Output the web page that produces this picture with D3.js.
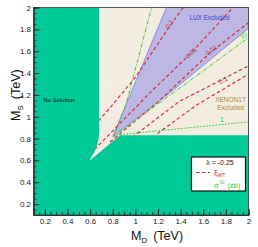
<!DOCTYPE html>
<html><head><meta charset="utf-8">
<script src="https://cdn.jsdelivr.net/npm/d3@7"></script>
<style>body{margin:0;background:#fff;} svg{display:block;font-family:"Liberation Sans",Arial,sans-serif;}</style>
</head><body><svg id="c" width="258" height="247"></svg>
<script>
// ---- data (M_D, M_S in TeV) ----
const xTicks = [0.2,0.4,0.6,0.8,1,1.2,1.4,1.6,1.8,2];
const xTickLabels = ["0.2","0.4","0.6","0.8","1","1.2","1.4","1.6","1.8","2"];
const yTicks = [0.2,0.4,0.6,0.8,1,1.2,1.4,1.6,1.8,2];
const yTickLabels = ["0.2","0.4","0.6","0.8","1","1.2","1.4","1.6","1.8","2"];
// boundary of the allowed (non "No Solution") region
const allowedRegion = [[0.68,2.0],[0.68,0.86],[0.676,0.80],[0.662,0.74],[0.636,0.675],[0.593,0.595],[0.864,0.83],[2.0,0.83],[2.0,2.0]];
// LUX excluded wedge
const luxExcluded = [[0.80,0.818],[1.275,2.0],[2.0,2.0],[2.0,1.81],[1.30,1.215]];
// xi_WT contours
const xi_0p1_upper  = [[0.64,0.92],[0.80,1.11],[1.0,1.36],[1.306,1.831],[1.439,2.023]];
const xi_0p01_left  = [[0.64,0.70],[0.80,0.87],[1.13,1.22],[1.49,1.58],[1.88,2.02]];
const xi_0p01_right = [[0.776,0.768],[1.191,1.126],[1.669,1.593],[2.031,1.886]];
const xi_0p1_lower  = [[0.847,0.713],[1.395,1.144],[1.775,1.345],[2.031,1.483]];
const xi_1          = [[1.041,0.695],[1.218,0.863],[1.542,1.107],[2.031,1.409]];
// sigma^SI contours (zb)
const sigma_10 = [[1.150,2.023],[0.916,1.107],[0.81,0.82],[2.031,1.748]];
const sigma_1  = [[0.835,0.833],[2.031,0.956]];
const lambdaText = "λ = -0.25";

// ---- layout ----
const W=258,H=247, L=33.5, R=248.5, T=7.5, B=215;
const svg=d3.select("#c");
const x=d3.scaleLinear().domain([0.1,2]).range([L,R]);
const y=d3.scaleLinear().domain([0.1,2]).range([B,T]);
const line=d3.line().x(d=>x(d[0])).y(d=>y(d[1]));
const GREEN="#00c896", BEIGE="#f3ece1", PURPLE="#bcb7e3", RED="#d0283a", LRED="#b03452", SGREEN="#33cc33";

const defs=svg.append("defs");
defs.append("clipPath").attr("id","plot").append("rect").attr("x",L).attr("y",T).attr("width",R-L).attr("height",B-T);
defs.append("clipPath").attr("id","allowed").append("path").attr("d",line(allowedRegion)+"Z");

const g=svg.append("g").attr("clip-path","url(#plot)");
g.append("rect").attr("x",L).attr("y",T).attr("width",R-L).attr("height",B-T).attr("fill",GREEN);
g.append("path").attr("d",line(allowedRegion)+"Z").attr("fill",BEIGE);
const ga=g.append("g").attr("clip-path","url(#allowed)");
ga.append("path").attr("d",line(luxExcluded)+"Z").attr("fill",PURPLE).attr("stroke","#7a78dd").attr("stroke-width",0.8);

[xi_0p1_upper,xi_0p01_left,xi_0p01_right,xi_0p1_lower,xi_1].forEach(c=>{
  ga.append("path").attr("d",line(c)).attr("fill","none").attr("stroke",RED).attr("stroke-width",1.15).attr("stroke-dasharray","3.5,2.5");
});
ga.append("path").attr("d",line(sigma_10)).attr("fill","none").attr("stroke",SGREEN).attr("stroke-width",1).attr("stroke-dasharray","4,1.5,1,1.5");
ga.append("path").attr("d",line(sigma_1)).attr("fill","none").attr("stroke","#55cc44").attr("stroke-width",1).attr("stroke-dasharray","2,1.2");

// contour labels
const lab=(t,d,s,rot,col)=>svg.append("text").attr("transform",`translate(${x(d)},${y(s)}) rotate(${rot})`)
  .attr("text-anchor","middle").attr("dominant-baseline","central").attr("font-size",6.5).attr("fill",col).text(t);
lab("0.1",1.30,1.85,-55,LRED);
lab("0.01",1.49,1.585,-45,LRED);
lab("0.01",1.67,1.612,-38,LRED);
lab("0.1",1.775,1.336,-28,LRED);
lab("10",1.955,1.745,-35,SGREEN);
lab("1",1.766,0.975,0,SGREEN);

// region texts
svg.append("text").attr("x",x(0.187)).attr("y",y(1.135)).attr("font-size",6).attr("fill","#111").text("No Solution");
svg.append("text").attr("x",x(1.48)).attr("y",y(1.89)).attr("font-size",6.3).attr("fill","#3a3acc").text("LUX Excluded");
svg.append("text").attr("x",x(1.841)).attr("y",y(1.135)).attr("text-anchor","middle").attr("font-size",6.5).attr("fill","#b08a3a").text("XENON1T");
svg.append("text").attr("x",x(1.841)).attr("y",y(1.057)).attr("text-anchor","middle").attr("font-size",6.5).attr("fill","#b08a3a").text("Excluded");

// frame
svg.append("rect").attr("x",L).attr("y",T).attr("width",R-L).attr("height",B-T).attr("fill","none").attr("stroke","#333").attr("stroke-width",0.8);

// axes
const minor=d3.range(0.1,2.0001,0.05).map(v=>+v.toFixed(2));
const xa=svg.append("g").attr("transform",`translate(0,${B})`)
  .call(d3.axisBottom(x).tickValues(xTicks).tickFormat((d,i)=>xTickLabels[i]).tickSize(-6).tickPadding(3.5));
const xm=svg.append("g").attr("transform",`translate(0,${B})`)
  .call(d3.axisBottom(x).tickValues(minor).tickFormat("").tickSize(-3));
const ya=svg.append("g").attr("transform",`translate(${L},0)`)
  .call(d3.axisLeft(y).tickValues(yTicks).tickFormat((d,i)=>yTickLabels[i]).tickSize(-6).tickPadding(2.5));
const ym=svg.append("g").attr("transform",`translate(${L},0)`)
  .call(d3.axisLeft(y).tickValues(minor).tickFormat("").tickSize(-3));
[xa,xm,ya,ym].forEach(a=>{a.select(".domain").attr("stroke","#333");a.selectAll("line").attr("stroke","#333");
  a.selectAll("text").attr("font-size",8).attr("fill","#222").attr("font-family","Liberation Sans, Arial, sans-serif");});

// axis titles
const xt=svg.append("text").attr("x",131).attr("y",240).attr("font-size",12.5).attr("fill","#111");
xt.append("tspan").text("M");
xt.append("tspan").attr("font-size",8).attr("dy",3).text("D");
xt.append("tspan").attr("dy",-3).attr("dx",6).text("(TeV)");
const yt=svg.append("text").attr("transform","translate(20,121) rotate(-90)").attr("font-size",12.5).attr("fill","#111");
yt.append("tspan").text("M");
yt.append("tspan").attr("font-size",8).attr("dy",3).text("S");
yt.append("tspan").attr("dy",-3).attr("dx",6).text("(TeV)");

// legend
svg.append("rect").attr("x",191.5).attr("y",157).attr("width",54).attr("height",34).attr("fill","#fff").attr("stroke","#111").attr("stroke-width",1.2);
svg.append("text").attr("x",220).attr("y",164.5).attr("text-anchor","middle").attr("font-size",7).attr("fill","#111").text(lambdaText);
svg.append("line").attr("x1",196).attr("x2",210).attr("y1",172.5).attr("y2",172.5).attr("stroke",RED).attr("stroke-width",1.1).attr("stroke-dasharray","3.5,2.5");
const lx=svg.append("text").attr("x",214).attr("y",174.5).attr("font-size",8).attr("fill",RED);
lx.append("tspan").text("ξ");
lx.append("tspan").attr("font-size",5).attr("dy",2.5).text("WT");
const ls=svg.append("text").attr("x",214).attr("y",188.3).attr("font-size",7.5).attr("fill",SGREEN);
ls.append("tspan").text("σ");
ls.append("tspan").attr("font-size",5).attr("dy",-4).attr("dx",1).text("SI");
ls.append("tspan").attr("dy",4).attr("dx",3).text("(zb)");
</script></body></html>
